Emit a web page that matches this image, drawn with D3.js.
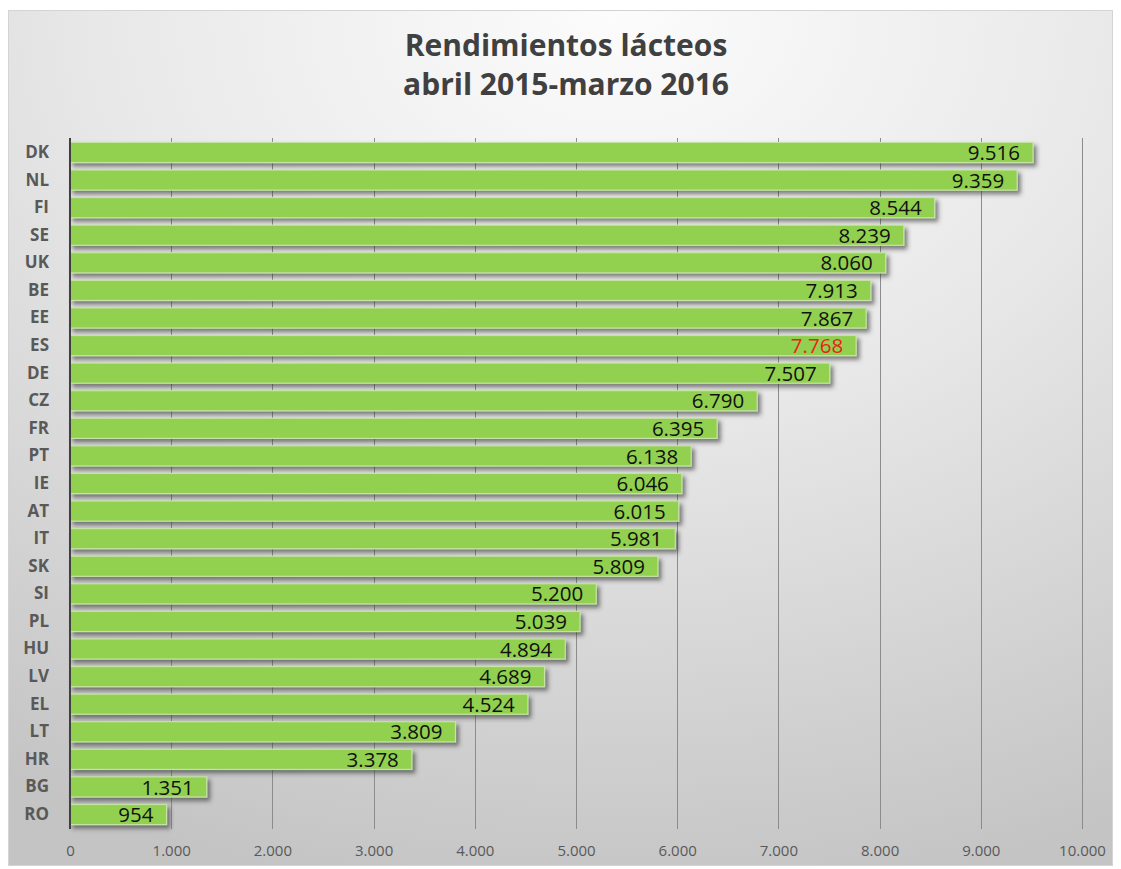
<!DOCTYPE html>
<html>
<head>
<meta charset="utf-8">
<script src="https://cdn.jsdelivr.net/npm/d3@7"></script>
<style>
  html, body { margin: 0; padding: 0; background: #ffffff; }
  svg { display: block; }
</style>
</head>
<body>
<svg id="chart" width="1121" height="869"></svg>
<script>
// Milk yield per cow by EU member state, April 2015 - March 2016
const countries = ["DK","NL","FI","SE","UK","BE","EE","ES","DE","CZ","FR","PT","IE","AT","IT","SK","SI","PL","HU","LV","EL","LT","HR","BG","RO"];
const yields    = [9516, 9359, 8544, 8239, 8060, 7913, 7867, 7768, 7507, 6790, 6395, 6138, 6046, 6015, 5981, 5809, 5200, 5039, 4894, 4689, 4524, 3809, 3378, 1351, 954];
const highlighted = ["ES"];
const xTicks = [0, 1000, 2000, 3000, 4000, 5000, 6000, 7000, 8000, 9000, 10000];
const titleLines = ["Rendimientos lácteos", "abril 2015-marzo 2016"];

const rows = countries.map((c, i) => ({ country: c, value: yields[i] }));

const plot = { left: 70, right: 1082, top: 138, bottom: 829 };

const es = d3.formatLocale({ decimal: ",", thousands: ".", grouping: [3], currency: ["", " €"] });
const fmt = es.format(",d");

const svg = d3.select("#chart");
const defs = svg.append("defs");

// chart-area background: bright at the top, greying towards the bottom
const bg = defs.append("radialGradient")
  .attr("id", "bgGrad")
  .attr("cx", "0.55").attr("cy", "0.0").attr("r", "1.05")
  .attr("fx", "0.55").attr("fy", "0.0");
bg.append("stop").attr("offset", "0%").attr("stop-color", "#fcfcfc");
bg.append("stop").attr("offset", "45%").attr("stop-color", "#e8e8e8");
bg.append("stop").attr("offset", "100%").attr("stop-color", "#c4c4c4");

const shadow = defs.append("filter")
  .attr("id", "barShadow")
  .attr("x", "-5%").attr("y", "-40%").attr("width", "115%").attr("height", "200%");
shadow.append("feDropShadow")
  .attr("dx", 3).attr("dy", 3.5).attr("stdDeviation", 2)
  .attr("flood-color", "#333333").attr("flood-opacity", 0.6);

svg.append("rect")
  .attr("x", 8.5).attr("y", 10.5)
  .attr("width", 1104).attr("height", 855)
  .attr("fill", "url(#bgGrad)")
  .attr("stroke", "#d4d4d4").attr("stroke-width", 1);

const x = d3.scaleLinear().domain([0, 10000]).range([plot.left, plot.right]);
const y = d3.scaleBand().domain(countries).range([plot.top, plot.bottom])
  .paddingInner(0.27).paddingOuter(0.16);

// vertical gridlines
svg.append("g").selectAll("line")
  .data(xTicks.filter(t => t > 0))
  .join("line")
  .attr("x1", d => Math.round(x(d)) + 0.5).attr("x2", d => Math.round(x(d)) + 0.5)
  .attr("y1", plot.top).attr("y2", plot.bottom)
  .attr("stroke", "#8c8c8c").attr("stroke-width", 1);

// x-axis tick labels
const xAxis = d3.axisBottom(x).tickValues(xTicks).tickFormat(fmt).tickSize(0).tickPadding(0);
const gx = svg.append("g").attr("transform", `translate(0, ${plot.bottom + 16})`).call(xAxis);
gx.select(".domain").remove();
gx.selectAll("text")
  .attr("font-family", "'Open Sans', sans-serif")
  .attr("font-size", 15)
  .attr("fill", "#595959")
  .attr("dy", "0.71em");

// bars
svg.append("g").selectAll("rect")
  .data(rows)
  .join("rect")
  .attr("x", x(0))
  .attr("y", d => y(d.country))
  .attr("width", d => x(d.value) - x(0))
  .attr("height", y.bandwidth())
  .attr("fill", "#92d050")
  .attr("stroke", "#c4e3a4")
  .attr("stroke-width", 1.2)
  .attr("filter", "url(#barShadow)");

// y axis: category labels and axis line
const yAxis = d3.axisLeft(y).tickSize(0).tickPadding(21);
const gy = svg.append("g").attr("transform", `translate(${plot.left}, 0)`).call(yAxis);
gy.select(".domain").remove();
gy.selectAll("text")
  .attr("font-family", "'Open Sans', sans-serif")
  .attr("font-size", 17)
  .attr("font-weight", "bold")
  .attr("fill", "#595959");

svg.append("line")
  .attr("x1", plot.left).attr("x2", plot.left)
  .attr("y1", plot.top).attr("y2", plot.bottom)
  .attr("stroke", "#404040").attr("stroke-width", 2);

// value labels at the inner end of each bar
svg.append("g").selectAll("text")
  .data(rows)
  .join("text")
  .attr("x", d => x(d.value) - 13)
  .attr("y", d => y(d.country) + y.bandwidth() / 2)
  .attr("dy", "0.37em")
  .attr("text-anchor", "end")
  .attr("font-family", "'Open Sans', sans-serif")
  .attr("font-size", 20.5)
  .attr("fill", d => highlighted.includes(d.country) ? "#e8231b" : "#111111")
  .text(d => fmt(d.value));

// title
svg.append("g").selectAll("text")
  .data(titleLines)
  .join("text")
  .attr("x", 566)
  .attr("y", (d, i) => 56 + i * 39)
  .attr("text-anchor", "middle")
  .attr("font-family", "'Open Sans', sans-serif")
  .attr("font-size", 30)
  .attr("font-weight", "bold")
  .attr("fill", "#404040")
  .text(d => d);
</script>
</body>
</html>
